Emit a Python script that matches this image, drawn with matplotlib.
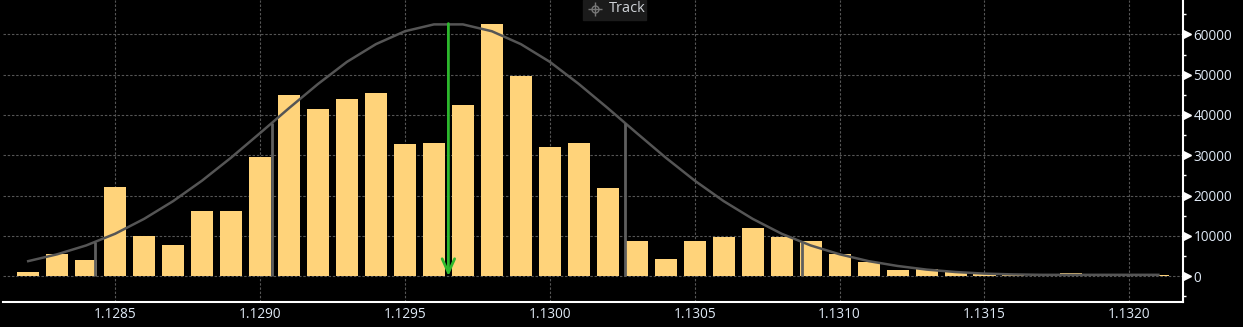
import matplotlib.pyplot as plt
import matplotlib.transforms as mtransforms
from matplotlib.patches import Rectangle
from matplotlib.ticker import MultipleLocator, FixedLocator

plt.rcParams["font.family"] = ["Open Sans", "DejaVu Sans"]

# price buckets and traded volume per bucket
prices = [1.1282, 1.1283, 1.1284, 1.1285, 1.1286, 1.1287, 1.1288, 1.1289, 1.1290, 1.1291,
          1.1292, 1.1293, 1.1294, 1.1295, 1.1296, 1.1297, 1.1298, 1.1299, 1.1300, 1.1301,
          1.1302, 1.1303, 1.1304, 1.1305, 1.1306, 1.1307, 1.1308, 1.1309, 1.1310, 1.1311,
          1.1312, 1.1313, 1.1314, 1.1315, 1.1316, 1.1317, 1.1318, 1.1319, 1.1320, 1.1321]
volume = [1000, 5500, 4100, 22100, 10000, 7800, 16200, 16200, 29600, 45000,
          41500, 44000, 45500, 32800, 33100, 42500, 62600, 49700, 32100, 33100,
          21900, 8800, 4300, 8800, 9800, 12000, 9800, 8800, 5500, 3600,
          1400, 1700, 1100, 600, 300, 150, 800, 600, 100, 250]

# fitted distribution curve, read at each bucket
curve = [3700, 5400, 7600, 10500, 14200, 18600, 23700, 29400, 35500, 41700,
         47700, 53200, 57600, 60800, 62500, 62500, 60800, 57600, 53200, 47700,
         41700, 35500, 29400, 23700, 18600, 14200, 10500, 7600, 5400, 3700,
         2500, 1600, 1000, 600, 400, 300, 300, 300, 300, 300]

# mean and +-1 / +-2 sigma markers
mean_price, mean_height = 1.12965, 62700
sigma_prices = [1.12843, 1.12904, 1.13026, 1.13087]
sigma_heights = [8500, 38000, 38000, 8500]

xticks = [1.1285, 1.1290, 1.1295, 1.1300, 1.1305, 1.1310, 1.1315, 1.1320]

W, H = 1243, 327
fig = plt.figure(figsize=(W / 100, H / 100), dpi=100, facecolor="black")
ax = fig.add_axes([3 / W, 25 / H, 1180 / W, 302 / H], facecolor="black")

ax.bar(prices, volume, width=0.000076, color="#FFD37A", zorder=2)
ax.plot(prices, curve, color="#555555", lw=1.8, zorder=3)
ax.vlines(sigma_prices, 0, sigma_heights, color="#5f5f5f", lw=2, zorder=3)
ax.annotate("", xy=(mean_price, 0), xytext=(mean_price, mean_height),
            arrowprops=dict(arrowstyle="->,head_length=1.0,head_width=0.45",
                            color="#2DB82D", lw=2, shrinkA=0, shrinkB=0),
            zorder=4)

ax.set_xlim(1.128113, 1.132185)
ax.set_ylim(-6450, 68560)

ax.xaxis.set_major_locator(FixedLocator(xticks))
ax.set_xticklabels([f"{t:.4f}" for t in xticks])
ax.yaxis.tick_right()
ax.yaxis.set_major_locator(MultipleLocator(10000))
ax.yaxis.set_minor_locator(MultipleLocator(5000))

ax.tick_params(axis="x", length=0, pad=3.5, labelsize=9.8, labelcolor="#dfe9f5")
ax.tick_params(axis="y", which="major", length=0, pad=7.5, labelsize=9.8, labelcolor="#dfe9f5")
ax.tick_params(axis="y", which="minor", length=2.5, width=1, color="white", direction="out")

ax.grid(which="major", color="#555555", linestyle=(0, (2.2, 1.6)), lw=0.8, zorder=0)
ax.set_axisbelow(True)

for s in ["top", "left"]:
    ax.spines[s].set_visible(False)
for s in ["right", "bottom"]:
    ax.spines[s].set_color("white")
    ax.spines[s].set_linewidth(1.5)

# white pointers next to the y tick labels
tri = ax.get_yaxis_transform() + mtransforms.ScaledTranslation(0.035, 0, fig.dpi_scale_trans)
for v in range(0, 70000, 10000):
    ax.plot([1.0], [v], marker=">", ms=5.5, color="white", mec="white",
            transform=tri, clip_on=False)

# "Track" button at the top
fig.add_artist(Rectangle((583 / W, 1 - 20 / H), 63 / W, 20 / H,
                         transform=fig.transFigure, color="#1b1b1b", zorder=5))
cx, cy = 595 / W, 1 - 9 / H
fig.add_artist(plt.Line2D([cx], [cy], marker="o", ms=5, mfc="none", mec="#777777",
                          transform=fig.transFigure, zorder=6))
fig.add_artist(plt.Line2D([cx], [cy], marker="+", ms=10, mec="#777777", mew=1,
                          transform=fig.transFigure, zorder=6))
fig.text(609 / W, cy, "Track", color="#d0d4d8", fontsize=10.5, va="center", ha="left",
         zorder=7)

fig.savefig("out.png", dpi=100, facecolor="black")
